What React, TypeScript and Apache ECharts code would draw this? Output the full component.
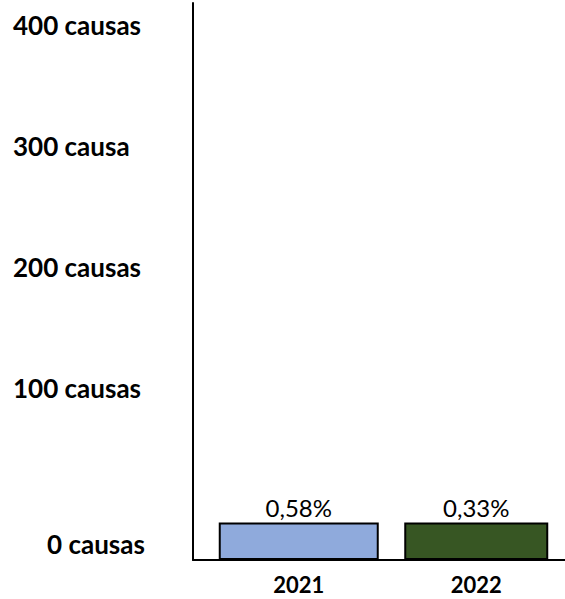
import React, { useEffect, useRef } from "react";
import * as echarts from "echarts";

const categories = ["2021", "2022"];
const values = [27, 27];
const barLabels = ["0,58%", "0,33%"];
const barColors = ["#8FAADC", "#375623"];
const barWidths = [160, 144];
const tickValues = [0, 100, 200, 300, 400];
const tickLabels = ["0 causas", "100 causas", "200 causas", "300 causa", "400 causas"];

const FONT = "Lato";

export default function App() {
  const ref = useRef<HTMLDivElement>(null);
  useEffect(() => {
    if (!ref.current) return;
    const chart = echarts.init(ref.current, null, { renderer: "svg" });
    const labelFor = (v: number) => {
      const i = tickValues.indexOf(v);
      if (i < 0) return "";
      return v === 0 ? "{z|" + tickLabels[i] + "}" : "{n|" + tickLabels[i] + "}";
    };
    const richBase = { fontFamily: FONT, fontWeight: "bold", fontSize: 26, color: "#000" };
    chart.setOption({
      animation: false,
      backgroundColor: "#fff",
      grid: [
        { left: 193, width: 372, top: 3, bottom: 39 },
        { left: 210, width: 360, top: 3, bottom: 39 },
        { left: 193, width: 372, top: 25, bottom: 90 },
      ],
      xAxis: [
        {
          gridIndex: 0,
          type: "category",
          data: [""],
          axisLine: { show: true, lineStyle: { color: "#000", width: 2 } },
          axisTick: { show: false },
          axisLabel: { show: false },
        },
        {
          gridIndex: 1,
          type: "category",
          data: categories,
          axisLine: { show: false },
          axisTick: { show: false },
          axisLabel: { margin: 13, fontFamily: FONT, fontWeight: "bold", fontSize: 22, color: "#000" },
        },
        { gridIndex: 2, type: "category", data: [""], show: false },
        { gridIndex: 1, type: "category", data: categories, show: false },
      ],
      yAxis: [
        {
          gridIndex: 0,
          type: "value",
          min: 0,
          max: 400,
          axisLine: { show: true, lineStyle: { color: "#000", width: 2 } },
          axisTick: { show: false },
          axisLabel: { show: false },
          splitLine: { show: false },
        },
        { gridIndex: 1, type: "value", min: 0, max: 400, show: false, splitLine: { show: false } },
        {
          gridIndex: 2,
          type: "value",
          min: 0,
          max: 400,
          interval: 100,
          axisLine: { show: false },
          axisTick: { show: false },
          splitLine: { show: false },
          axisLabel: {
            margin: 180,
            align: "left",
            formatter: labelFor,
            rich: {
              n: { ...richBase },
              z: { ...richBase, padding: [70, 0, 0, 34] },
            },
          },
        },
      ],
      series: categories.map((c, i) => ({
        type: "bar",
        xAxisIndex: i === 0 ? 1 : 3,
        yAxisIndex: 1,
        barWidth: barWidths[i],
        data: categories.map((_, j) => (j === i ? values[j] : "-")),
        itemStyle: { color: barColors[i], borderColor: "#000", borderWidth: 2 },
        label: {
          show: true,
          position: "top",
          distance: 3,
          formatter: () => barLabels[i],
          fontFamily: FONT,
          fontSize: 24,
          color: "#000",
        },
      })),
    });
    return () => chart.dispose();
  }, []);
  return (
    <div
      ref={ref}
      style={{ position: "absolute", left: 0, top: 0, width: 565, height: 599 }}
    />
  );
}
